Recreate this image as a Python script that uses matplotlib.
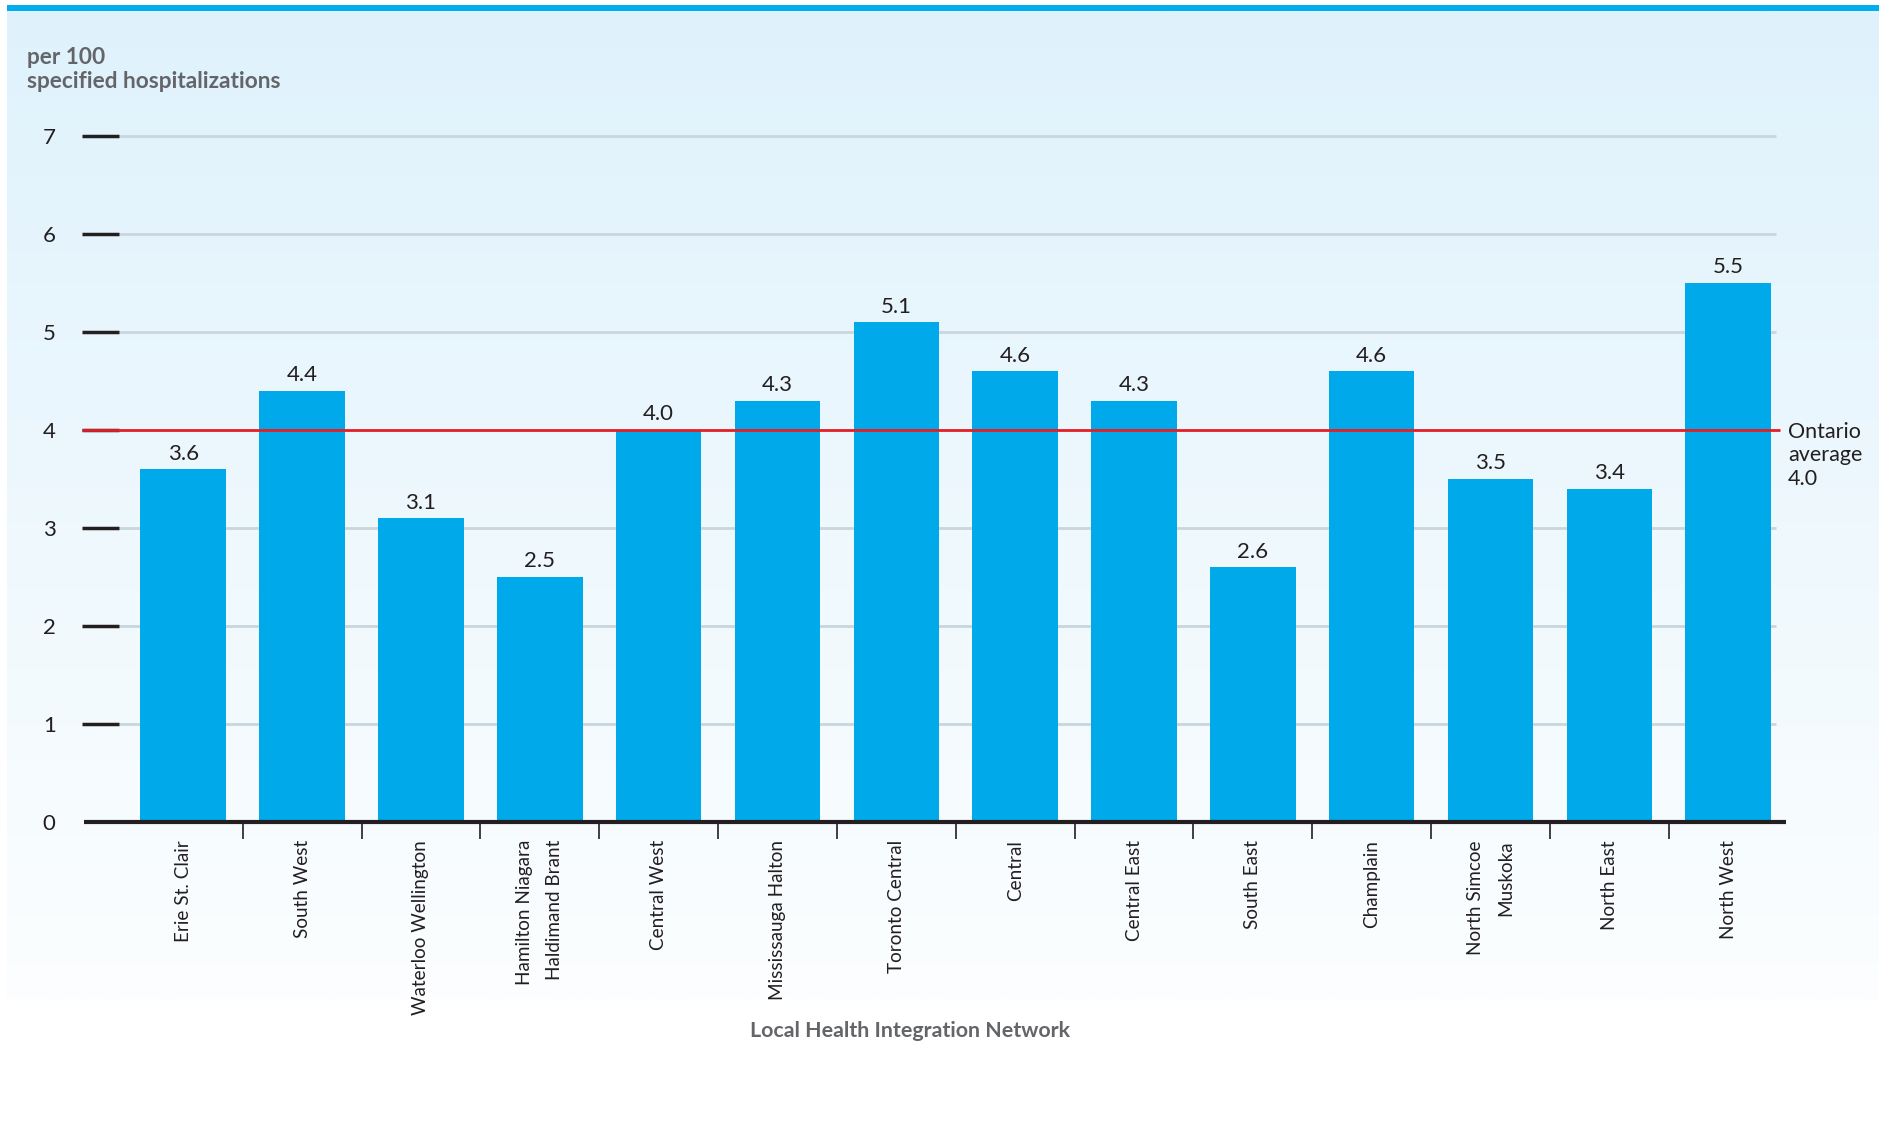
import numpy as np
import matplotlib
matplotlib.use("Agg")
import matplotlib.pyplot as plt
from matplotlib.patches import Rectangle

plt.rcParams['font.family'] = ['Lato', 'DejaVu Sans']

# data
regions = ["Erie St. Clair", "South West", "Waterloo Wellington",
           "Hamilton Niagara\nHaldimand Brant", "Central West", "Mississauga Halton",
           "Toronto Central", "Central", "Central East", "South East", "Champlain",
           "North Simcoe\nMuskoka", "North East", "North West"]
rates = [3.6, 4.4, 3.1, 2.5, 4.0, 4.3, 5.1, 4.6, 4.3, 2.6, 4.6, 3.5, 3.4, 5.5]
ontario_avg = 4.0
yticks = [0, 1, 2, 3, 4, 5, 6, 7]

bar_color = "#00a9ea"
dark = "#231f20"
gray = "#636569"

W, H = 1885, 1136
fig = plt.figure(figsize=(W / 100, H / 100), dpi=100)

# background panel with soft gradient + top stripe
bg = fig.add_axes([0, 0, 1, 1], zorder=0)
bg.set_xlim(0, W)
bg.set_ylim(H, 0)
bg.axis("off")
top = np.array([223, 242, 252]) / 255
bot = np.array([252, 254, 255]) / 255
t = np.linspace(0, 1, 256)[:, None]
grad = (top * (1 - t) + bot * t)[:, None, :]
bg.imshow(grad, extent=[7, 1879, 1000, 11], aspect="auto", interpolation="bilinear")
bg.add_patch(Rectangle((7, 5), 1872, 6, color="#00aeef", lw=0))

# main axes
ax = fig.add_axes([82 / W, 1 - 822 / H, 1704 / W, 0.6298], zorder=1)
ax.patch.set_alpha(0)
for s in ax.spines.values():
    s.set_visible(False)

x = np.arange(len(regions))
x0, x1 = -0.852, 13.486
ax.set_xlim(x0, x1)
ax.set_ylim(0, 7.3)

# gridlines and short dark ticks
for y in yticks[1:]:
    if y != ontario_avg:
        ax.hlines(y, -0.541, 13.4, color="#c9d6dd", lw=2, zorder=1)
    ax.hlines(y, x0, -0.541, color=dark, lw=2.5, zorder=2)

ax.bar(x, rates, width=0.72, color=bar_color, zorder=2)

for xi, v in zip(x, rates):
    ax.annotate(f"{v:.1f}", (xi, v), xytext=(0, 4), textcoords="offset points",
                ha="center", va="bottom", fontsize=16, color=dark)

# Ontario average line
ax.hlines(ontario_avg, x0, 13.436, color="#e31e24", lw=2, zorder=3)
ax.text(13.503, ontario_avg + 0.08, f"Ontario\naverage\n{ontario_avg:.1f}",
        ha="left", va="top", fontsize=15.5, color=dark, linespacing=1.2,
        clip_on=False)

# x axis line
ax.hlines(0, -0.835, x1, color=dark, lw=3, zorder=4, clip_on=False)

ax.set_yticks(yticks)
ax.set_yticklabels([str(v) for v in yticks], fontsize=16, color=dark)
ax.tick_params(axis="y", length=0, pad=19)

ax.set_xticks(x)
ax.set_xticklabels(regions, rotation=90, fontsize=13.6, color=dark,
                   va="top", ha="center")
for lab in ax.get_xticklabels():
    lab.set_multialignment("right")
    lab.set_linespacing(1.95)
ax.set_xticks(x[:-1] + 0.5, minor=True)
ax.tick_params(axis="x", which="major", length=0, pad=13)
ax.tick_params(axis="x", which="minor", length=12, width=1.2, color=dark)

fig.text(27 / W, 1 - 47 / H, "per 100\nspecified hospitalizations", ha="left", va="top",
         fontsize=16.3, fontweight="bold", color=gray, linespacing=1.2)
fig.text(910 / W, 1 - 1031 / H, "Local Health Integration Network", ha="center",
         va="center", fontsize=15.4, fontweight="bold", color=gray)

fig.savefig("out.png", dpi=100)
